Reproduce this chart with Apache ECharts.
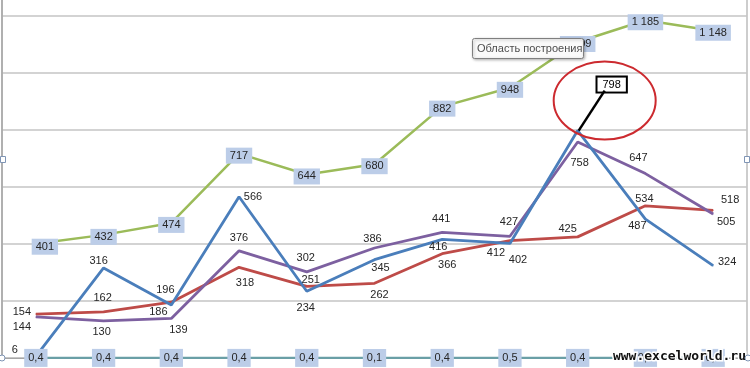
<!DOCTYPE html>
<html><head><meta charset="utf-8">
<script src="https://cdn.jsdelivr.net/npm/echarts@6/dist/echarts.min.js"></script>
<style>html,body{margin:0;padding:0;background:#fff}#c{width:750px;height:368px}</style>
</head><body><div id="c"></div>
<script>
const categories = ['1','2','3','4','5','6','7','8','9','10','11'];
const seriesBlue = [6,316,186,566,234,345,416,402,798,487,324];
const seriesRed = [154,162,196,318,251,262,366,412,425,534,518];
const seriesPurple = [144,130,139,376,302,386,441,427,758,647,505];
const seriesGreen = [401,432,474,717,644,680,882,948,1109,1185,1148];
const seriesTeal = [0.4,0.4,0.4,0.4,0.4,0.1,0.4,0.5,0.4,0.4,0.4];
const yTicks = {min:0, max:1400, interval:200};

// label offsets (style only): [dx, dy] of the label centre from the point
const offBlue = [[-21,-6],[-5,-7],[-13,7],[14,0],[-1,17],[6,8],[-4,8],[8,17],[34,-46],[-8,7],[14,-4]];
const offRed = [[-14,-2],[-1,-14],[-6,-12],[6,16],[4,-6],[5,12],[5,11],[-14,12],[-10,-8],[-1,-7],[17,-10]];
const offPurple = [[-14,10],[-2,11],[7,12],[0,-13],[-1,-14],[-2,-9],[-1,-13],[-1,-14],[2,21],[-7,-16],[13,8]];
const offGreen = [[9,3],[0,2],[0,2],[0,2],[0,2],[0,2],[0,2],[0,2],[0,2],[0,2],[0,2]];

function fmt(v){
  let s = String(v).replace('.', ',');
  if (Math.abs(v) >= 1000) s = s.replace(/\B(?=(\d{3})+(?!\d))/g, '\u00a0');
  return s;
}
const FONT = 'Liberation Sans';
const baseLabel = {show:true, position:'inside', align:'center', verticalAlign:'middle',
  fontFamily:FONT, fontSize:11, color:'#262626', formatter:p=>fmt(p.value)};

function mk(vals, offs, extra){
  return vals.map((v,i)=>({value:v, label:Object.assign({offset:offs[i]}, extra && extra(i))}));
}

const chart = echarts.init(document.getElementById('c'), null, {renderer:'canvas'});
const lineSeries = (name, vals, offs, color, width, extraLabel, z) => ({
  name, type:'line', data: mk(vals, offs, extraLabel), symbol:'circle', symbolSize:1,
  itemStyle:{color}, lineStyle:{color, width}, label:Object.assign({}, baseLabel),
  clip:false, z: z||2, animation:false
});

const calloutLabel = i => i===8 ? {backgroundColor:'#fff', borderColor:'#000', borderWidth:2, padding:[2,5,1,5], color:'#000'} : {};

chart.setOption({
  animation:false,
  grid:{left:2, right:3, top:-41, bottom:10, show:true, borderColor:'#bdbdbd', borderWidth:1.5, outerBoundsMode:'none'},
  xAxis:{type:'category', data:categories, boundaryGap:true,
    axisLine:{show:true, lineStyle:{color:'#a6a6a6'}}, axisTick:{show:false}, axisLabel:{show:false}},
  yAxis:{type:'value', min:yTicks.min, max:yTicks.max, interval:yTicks.interval,
    axisLine:{show:true, lineStyle:{color:'#a6a6a6', width:1.5}}, axisTick:{show:false}, axisLabel:{show:false},
    splitLine:{lineStyle:{color:'#c4c4c4', width:1.5}}},
  series:[
    lineSeries('Blue', seriesBlue, offBlue, '#4a7ebb', 2.8, calloutLabel, 3),
    lineSeries('Red', seriesRed, offRed, '#be4b48', 2.8, null, 2),
    lineSeries('Purple', seriesPurple, offPurple, '#7d60a0', 2.8, null, 2),
    lineSeries('Green', seriesGreen, offGreen, '#9bbb59', 2.5, ()=>({backgroundColor:'#bccde8', padding:[3,4,2,4]}), 2),
    lineSeries('Teal', seriesTeal, seriesTeal.map(()=>[0,0]), '#6a9fa6', 2.2, ()=>({backgroundColor:'#bccde8', padding:[4,4,3,4]}), 4)
  ]
});

const p = chart.convertToPixel({xAxisIndex:0, yAxisIndex:0}, [8, seriesBlue[8]]);
const TOP = {zlevel:5, z:100};
chart.setOption({graphic:[
  {type:'line', z:10, shape:{x1:p[0]+1, y1:p[1], x2:p[0]+27, y2:p[1]-40}, style:{stroke:'#000', lineWidth:2.5}},
  {type:'ellipse', z:10, shape:{cx:p[0]+27, cy:p[1]-30, rx:51, ry:39}, style:{fill:null, stroke:'#cc2a2f', lineWidth:2}},
  Object.assign({type:'rect', shape:{x:472.5, y:38.5, width:111, height:20, r:2}, style:{fill:'#fafafa', stroke:'#7f7f7f', lineWidth:1, shadowBlur:3, shadowOffsetX:1, shadowOffsetY:1, shadowColor:'rgba(0,0,0,0.3)'}}, TOP),
  Object.assign({type:'text', x:477, y:49, style:{text:'Область построения', fontFamily:FONT, fontSize:11, fill:'#4d4d4d', verticalAlign:'middle'}}, TOP, {z:101}),
  Object.assign({type:'text', x:746, y:357, style:{text:'www.excelworld.ru', fontFamily:'DejaVu Sans Mono', fontWeight:'bold', fontSize:13, fill:'#111', stroke:'#fff', lineWidth:3, align:'right', verticalAlign:'middle'}}, TOP),
  Object.assign({type:'rect', shape:{x:0.5, y:156.5, width:5, height:6}, style:{fill:'#fff', stroke:'#7f95b5', lineWidth:1}}, TOP),
  Object.assign({type:'rect', shape:{x:744.5, y:156.5, width:5, height:6}, style:{fill:'#fff', stroke:'#7f95b5', lineWidth:1}}, TOP),
  Object.assign({type:'circle', shape:{cx:2, cy:358, r:3}, style:{fill:'#fff', stroke:'#7f95b5', lineWidth:1}}, TOP),
  Object.assign({type:'circle', shape:{cx:748, cy:358, r:3}, style:{fill:'#fff', stroke:'#7f95b5', lineWidth:1}}, TOP)
]});
</script></body></html>
